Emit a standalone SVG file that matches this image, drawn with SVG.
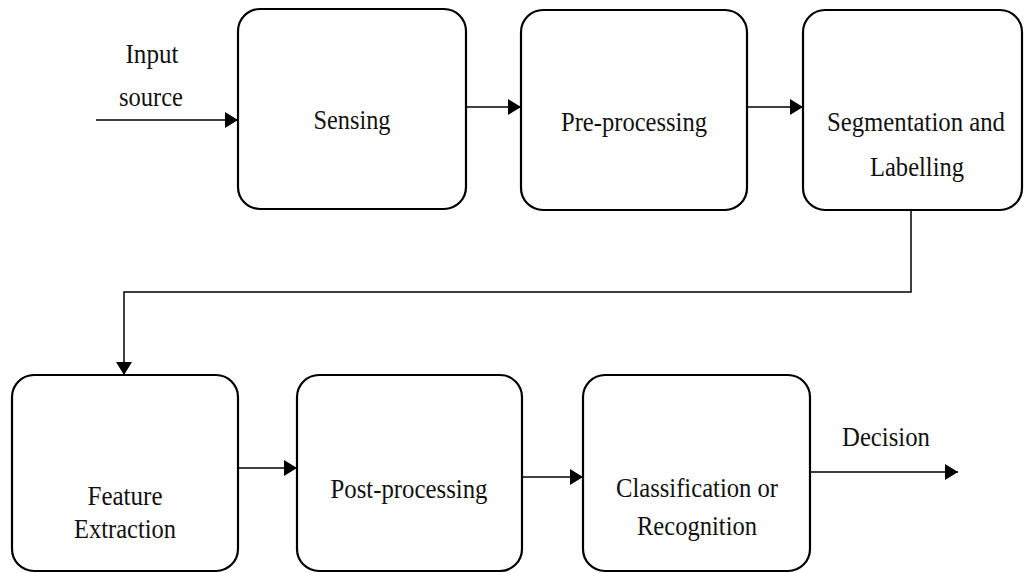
<svg xmlns="http://www.w3.org/2000/svg" width="1024" height="573" viewBox="0 0 1024 573">
<style>
.box{fill:#fff;stroke:#000;stroke-width:2.2}
.lbl{font-family:"Liberation Serif","DejaVu Serif",serif;font-size:28px;fill:#111;text-anchor:middle}
.conn{fill:none;stroke:#000;stroke-width:1.5}
</style>
<defs>
<marker id="arr" markerUnits="userSpaceOnUse" markerWidth="14" markerHeight="16" refX="13" refY="8" orient="auto">
<path d="M0,0 L13,8 L0,16 Z" fill="#000"/>
</marker>
</defs>
<rect width="1024" height="573" fill="#fff"/>
<g id="connectors">
<line class="conn" x1="96" y1="120" x2="238" y2="120" marker-end="url(#arr)"/>
<line class="conn" x1="466" y1="107" x2="521" y2="107" marker-end="url(#arr)"/>
<line class="conn" x1="747" y1="107" x2="803" y2="107" marker-end="url(#arr)"/>
<path class="conn" d="M911,210 V292 H124 V375" marker-end="url(#arr)"/>
<line class="conn" x1="238" y1="468" x2="297" y2="468" marker-end="url(#arr)"/>
<line class="conn" x1="522" y1="477" x2="583" y2="477" marker-end="url(#arr)"/>
<line class="conn" x1="810" y1="472" x2="958" y2="472" marker-end="url(#arr)"/>
</g>
<g id="input-label">
<text class="lbl" x="152" y="63" textLength="53" lengthAdjust="spacingAndGlyphs">Input</text>
<text class="lbl" x="151" y="106" textLength="64" lengthAdjust="spacingAndGlyphs">source</text>
</g>
<g id="sensing">
<rect class="box" x="238" y="9" width="228" height="200" rx="22"/>
<text class="lbl" x="352" y="129" textLength="77" lengthAdjust="spacingAndGlyphs">Sensing</text>
</g>
<g id="preprocessing">
<rect class="box" x="521" y="10" width="226" height="200" rx="22"/>
<text class="lbl" x="634" y="131" textLength="146" lengthAdjust="spacingAndGlyphs">Pre-processing</text>
</g>
<g id="segmentation">
<rect class="box" x="803" y="10" width="219" height="200" rx="22"/>
<text class="lbl" x="916" y="131" textLength="178" lengthAdjust="spacingAndGlyphs">Segmentation and</text>
<text class="lbl" x="917" y="176" textLength="94" lengthAdjust="spacingAndGlyphs">Labelling</text>
</g>
<g id="feature-extraction">
<rect class="box" x="12" y="375" width="226" height="196" rx="22"/>
<text class="lbl" x="125" y="505" textLength="75" lengthAdjust="spacingAndGlyphs">Feature</text>
<text class="lbl" x="125" y="538" textLength="102" lengthAdjust="spacingAndGlyphs">Extraction</text>
</g>
<g id="postprocessing">
<rect class="box" x="297" y="375" width="225" height="196" rx="22"/>
<text class="lbl" x="409" y="498" textLength="157" lengthAdjust="spacingAndGlyphs">Post-processing</text>
</g>
<g id="classification">
<rect class="box" x="583" y="375" width="227" height="196" rx="22"/>
<text class="lbl" x="697" y="497" textLength="162" lengthAdjust="spacingAndGlyphs">Classification or</text>
<text class="lbl" x="697" y="535" textLength="120" lengthAdjust="spacingAndGlyphs">Recognition</text>
</g>
<g id="decision-label">
<text class="lbl" x="886" y="446" textLength="88" lengthAdjust="spacingAndGlyphs">Decision</text>
</g>
</svg>
